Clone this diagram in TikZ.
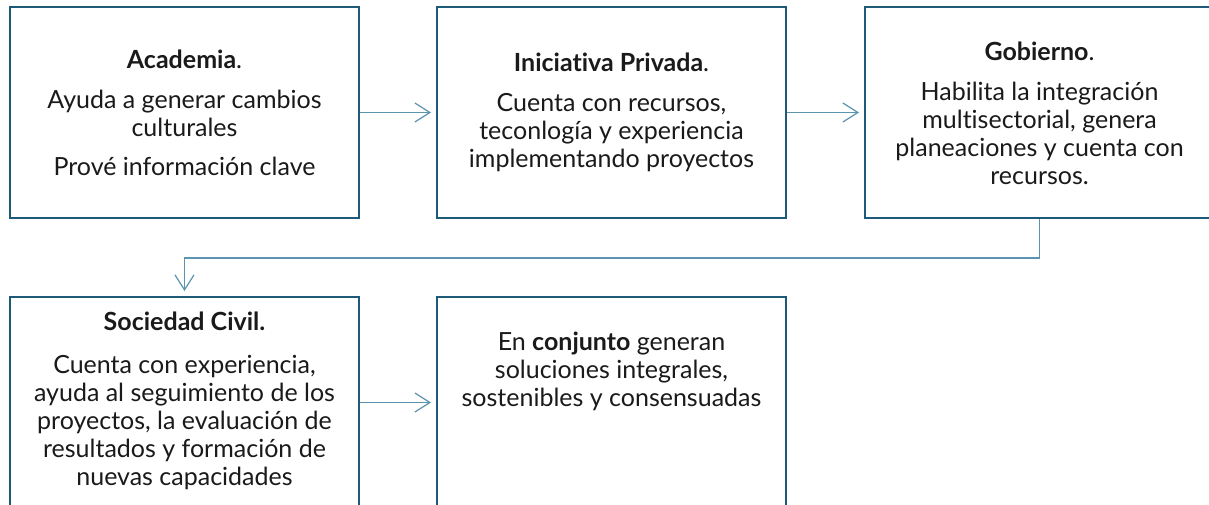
\documentclass[tikz,border=0pt]{standalone}
\usepackage{fontspec}
\setmainfont{Lato}[Ligatures=NoCommon]
\usetikzlibrary{arrows.meta}
\definecolor{boxc}{HTML}{1D5A79}
\definecolor{linec}{HTML}{5C93AE}
\definecolor{txt}{HTML}{1A1A1A}
\begin{document}
\begin{tikzpicture}[x=1pt,y=-1pt,
 box/.style={draw=boxc,line width=2pt,minimum width=349pt,minimum height=211pt,inner sep=0pt},
 txtnode/.style={align=center,text=txt,font=\fontsize{25}{28}\selectfont,inner sep=0pt},
 conn/.style={draw=linec,line width=1.3pt,-{Straight Barb[length=15pt,width=19pt,line width=1.2pt]},shorten >=5pt}]
\useasboundingbox (0,0) rectangle (1209,504);
\fill[white] (0,0) rectangle (1209,504);
\node[box] (aca) at (184.5,112.5) {};
\node[box] (ini) at (611.5,112.5) {};
\node[box] (gob) at (1039.5,112.5) {};
\node[box] (soc) at (184.5,402.5) {};
\node[box] (con) at (611.5,402.5) {};
\node[txtnode] (acat) at (184.5,113) {\textbf{Academia}.\\[12pt]Ayuda a generar cambios\\culturales\\[11pt]Prové información clave};
\node[txtnode] (init) at (611.5,112) {\textbf{Iniciativa Privada}.\\[12pt]Cuenta con recursos,\\teconlogía y experiencia\\implementando proyectos};
\node[txtnode] (gobt) at (1039.5,113.5) {\textbf{Gobierno}.\\[12pt]Habilita la integración\\multisectorial, genera\\planeaciones y cuenta con\\recursos.};
\node[txtnode] (soct) at (184.5,400.5) {\textbf{Sociedad Civil.}\\[15pt]Cuenta con experiencia,\\ayuda al seguimiento de los\\proyectos, la evaluación de\\resultados y formación de\\nuevas capacidades};
\node[txtnode] (cont) at (611.5,371.5) {En \textbf{conjunto} generan\\soluciones integrales,\\sostenibles y consensuadas};
\draw[conn] (aca.east) -- (ini.west);
\draw[conn] (ini.east) -- (gob.west);
\draw[conn] (gob.south) -- ++(0,39) -| (soc.north);
\draw[conn] (soc.east) -- (con.west);
\end{tikzpicture}
\end{document}
